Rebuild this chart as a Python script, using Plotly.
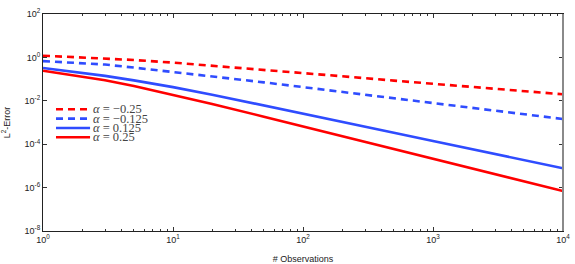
import plotly.graph_objects as go

observations = [1, 2, 3, 5, 10, 20, 50, 100, 200, 500, 1000, 2000, 5000, 10000]

err_m025 = [1.20, 1.00, 0.891, 0.759, 0.575, 0.417, 0.269, 0.191, 0.135, 0.0851, 0.0603, 0.0427, 0.0275, 0.0200]
err_m0125 = [0.676, 0.550, 0.468, 0.339, 0.214, 0.138, 0.0708, 0.0427, 0.0257, 0.0129, 0.00776, 0.00468, 0.00240, 0.00145]
err_p0125 = [0.324, 0.195, 0.141, 0.0871, 0.0427, 0.0191, 0.00617, 0.00257, 0.00107, 3.39e-4, 1.41e-4, 5.89e-5, 1.86e-5, 7.76e-6]
err_p025 = [0.245, 0.132, 0.0891, 0.0479, 0.0191, 0.00708, 0.00186, 6.61e-4, 2.34e-4, 5.89e-5, 2.09e-5, 7.59e-6, 1.95e-6, 6.92e-7]

series_names = ["<i>α</i>&nbsp;=&nbsp;−0.25", "<i>α</i>&nbsp;=&nbsp;−0.125",
                "<i>α</i>&nbsp;=&nbsp;0.125", "<i>α</i>&nbsp;=&nbsp;0.25"]

x_tickvals = [1, 10, 100, 1000, 10000]
x_ticktext = ["10<sup>0</sup>", "10<sup>1</sup>", "10<sup>2</sup>", "10<sup>3</sup>", "10<sup>4</sup>"]
x_minor = [m * d for d in [1, 10, 100, 1000] for m in range(2, 10)]
y_tickvals = [1e2, 1e0, 1e-2, 1e-4, 1e-6, 1e-8]
y_ticktext = ["10<sup>2</sup>", "10<sup>0</sup>", "10<sup>-2</sup>", "10<sup>-4</sup>", "10<sup>-6</sup>", "10<sup>-8</sup>"]

RED = "#ff0000"
BLUE = "#2f4cff"
DASH = "7px,5px"

fig = go.Figure()
styles = [(err_m025, RED, DASH), (err_m0125, BLUE, DASH),
          (err_p0125, BLUE, "solid"), (err_p025, RED, "solid")]
for (vals, col, dash), name in zip(styles, series_names):
    fig.add_trace(go.Scatter(x=observations, y=vals, mode="lines", name=name,
                             line=dict(color=col, width=2.6, dash=dash), showlegend=False))

# compact legend (MATLAB-style) drawn with shapes + annotations
legend_rows_y = [0.561, 0.518, 0.475, 0.432]
for (vals, col, dash), name, ly in zip(styles, series_names, legend_rows_y):
    fig.add_shape(type="line", xref="paper", yref="paper", x0=0.025, x1=0.0905, y0=ly, y1=ly,
                  line=dict(color=col, width=2.6, dash=dash))
    fig.add_annotation(xref="paper", yref="paper", x=0.094, y=ly, xanchor="left", yanchor="middle",
                       text=name, showarrow=False, borderpad=0,
                       font=dict(family="Liberation Serif, DejaVu Serif, serif", size=12.5, color="#444"))

# right frame edge appears grey and slightly heavier
fig.add_shape(type="line", xref="paper", yref="paper", x0=1, x1=1, y0=0, y1=1,
              line=dict(color="#8a8a8a", width=2))

axis_font = dict(family="Liberation Sans, Arial, sans-serif", size=9, color="#222")
fig.update_layout(
    width=575, height=264,
    margin=dict(l=43, r=12, t=14, b=33),
    paper_bgcolor="white", plot_bgcolor="white",
    showlegend=False,
    font=axis_font,
)
fig.update_xaxes(type="log", range=[0, 4], tickvals=x_tickvals, ticktext=x_ticktext,
                 ticks="inside", ticklen=4, tickcolor="#333", showgrid=False,
                 showline=True, linecolor="#222", linewidth=1, mirror="ticks",
                 minor=dict(tickvals=x_minor, ticks="inside", ticklen=2, tickcolor="#333", showgrid=False),
                 title=dict(text="# Observations", font=dict(size=9)),
                 tickfont=axis_font, zeroline=False, automargin=False)
fig.update_yaxes(type="log", range=[-8, 2], tickvals=y_tickvals, ticktext=y_ticktext,
                 ticks="inside", ticklen=4, tickcolor="#333", showgrid=False,
                 showline=True, linecolor="#222", linewidth=1, mirror="ticks",
                 title=dict(text="L<sup>2</sup>-Error", font=dict(size=9)),
                 tickfont=axis_font, zeroline=False, automargin=False)

fig.write_html("out.html", config={"displayModeBar": False},
               post_script="document.body.style.margin='0';")
